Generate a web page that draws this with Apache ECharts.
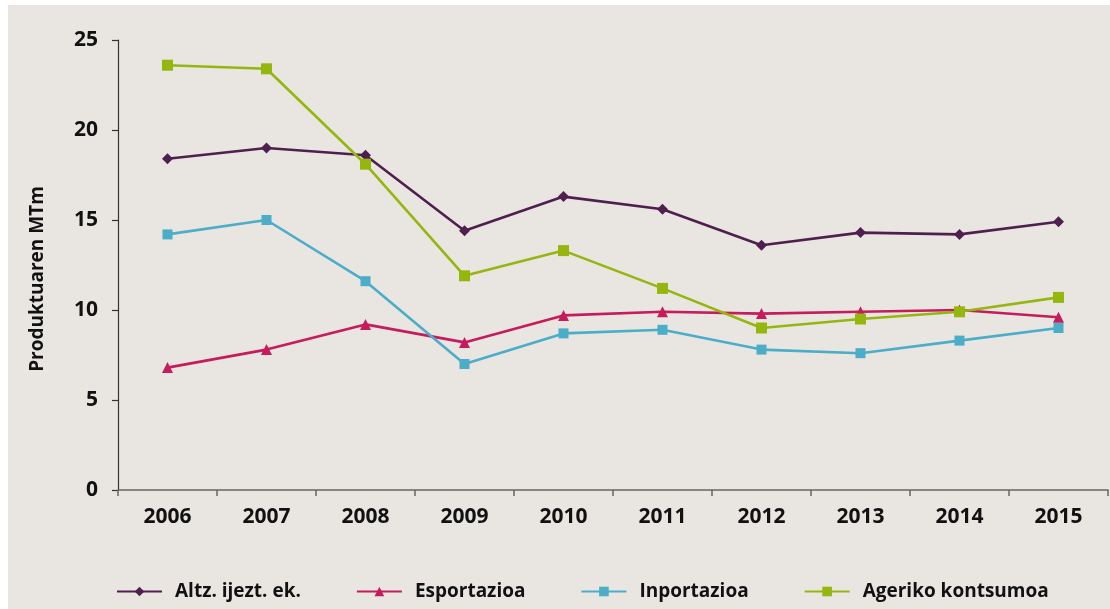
<!DOCTYPE html>
<html>
<head>
<meta charset="utf-8">
<script src="https://cdn.jsdelivr.net/npm/echarts@6/dist/echarts.min.js"></script>
<style>
html,body{margin:0;padding:0;background:#ffffff;width:1110px;height:609px;overflow:hidden;}
#chart{position:absolute;left:8px;top:5px;width:1102px;height:604px;}
</style>
</head>
<body>
<div id="chart"></div>
<script>
const years = ['2006','2007','2008','2009','2010','2011','2012','2013','2014','2015'];
const altz = [18.4, 19.0, 18.6, 14.4, 16.3, 15.6, 13.6, 14.3, 14.2, 14.9];
const esportazioa = [6.8, 7.8, 9.2, 8.2, 9.7, 9.9, 9.8, 9.9, 10.0, 9.6];
const inportazioa = [14.2, 15.0, 11.6, 7.0, 8.7, 8.9, 7.8, 7.6, 8.3, 9.0];
const ageriko = [23.6, 23.4, 18.1, 11.9, 13.3, 11.2, 9.0, 9.5, 9.9, 10.7];
const seriesNames = ['Altz. ijezt. ek.', 'Esportazioa', 'Inportazioa', 'Ageriko kontsumoa'];
const yTitle = 'Produktuaren MTm';

const FONT = '"Open Sans", "Liberation Sans", sans-serif';
const colors = ['#4f1f4f', '#c61b5d', '#4badc7', '#95b60f'];
const symbols = ['diamond', 'triangle', 'rect', 'rect'];
const symbolSizes = [11, 11, 10, 11];
const datasets = [altz, esportazioa, inportazioa, ageriko];

const chart = echarts.init(document.getElementById('chart'), null, {renderer: 'canvas'});
chart.setOption({
  backgroundColor: '#e9e6e2',
  animation: false,
  textStyle: {fontFamily: FONT},
  grid: {left: 110, top: 35, right: 2, height: 450, containLabel: false},
  graphic: [{
    type: 'text',
    x: 30, y: 274,
    rotation: Math.PI / 2,
    style: {
      text: yTitle,
      fontFamily: FONT, fontWeight: 'bold', fontSize: 19,
      fill: '#111', textAlign: 'center', textVerticalAlign: 'middle'
    }
  }],
  legend: {
    left: 103, top: 572,
    itemWidth: 45, itemHeight: 12, itemGap: 55,
    textStyle: {fontFamily: FONT, fontWeight: 'bold', fontSize: 19, color: '#111', padding: [0, 0, 0, 8]},
    data: seriesNames
  },
  xAxis: {
    type: 'category',
    data: years,
    boundaryGap: true,
    axisLine: {lineStyle: {color: '#666', width: 1.5}},
    axisTick: {show: true, length: 6, lineStyle: {color: '#666', width: 1.5}},
    axisLabel: {fontFamily: FONT, fontWeight: 'bold', fontSize: 21, color: '#111', margin: 17}
  },
  yAxis: {
    type: 'value',
    min: 0, max: 25, interval: 5,
    axisLine: {show: true, lineStyle: {color: '#333', width: 1.2}},
    axisTick: {show: true, length: 6, lineStyle: {color: '#333', width: 1.2}},
    axisLabel: {fontFamily: FONT, fontWeight: 'bold', fontSize: 21, color: '#111', margin: 20},
    splitLine: {show: false}
  },
  series: datasets.map((d, i) => ({
    name: seriesNames[i],
    type: 'line',
    data: d,
    symbol: symbols[i],
    symbolSize: symbolSizes[i],
    showAllSymbol: true,
    color: colors[i],
    lineStyle: {width: 2.6, color: colors[i]},
    itemStyle: {color: colors[i]}
  }))
});
</script>
</body>
</html>
